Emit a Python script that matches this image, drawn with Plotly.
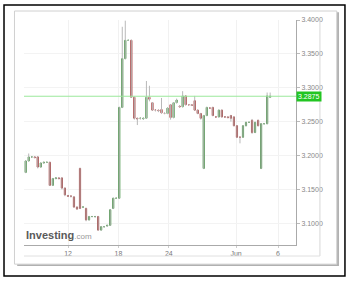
import plotly.graph_objects as go

# OHLC values (82 candles)
opens = [3.175,3.192,3.198,3.198,3.198,3.183,3.189,3.190,3.190,3.156,3.166,3.167,3.167,3.152,3.141,3.140,
         3.139,3.124,3.181,3.124,3.122,3.105,3.110,3.110,3.110,3.090,3.095,3.096,3.097,3.122,3.137,3.137,
         3.271,3.343,3.370,3.370,3.286,3.255,3.255,3.254,3.255,3.286,3.278,3.267,3.267,3.268,3.262,3.262,
         3.275,3.256,3.278,3.273,3.272,3.288,3.275,3.275,3.281,3.267,3.262,3.181,3.259,3.270,3.271,3.257,
         3.257,3.267,3.257,3.257,3.259,3.257,3.244,3.227,3.227,3.244,3.249,3.252,3.234,3.252,3.181,3.247,
         3.247,3.286]
closes = [3.192,3.198,3.198,3.197,3.183,3.189,3.190,3.190,3.156,3.166,3.167,3.166,3.152,3.142,3.140,3.140,
          3.124,3.121,3.122,3.124,3.105,3.110,3.110,3.110,3.090,3.095,3.095,3.097,3.120,3.137,3.137,3.271,
          3.343,3.370,3.370,3.286,3.255,3.254,3.255,3.255,3.286,3.283,3.267,3.267,3.266,3.263,3.262,3.270,
          3.256,3.278,3.282,3.272,3.288,3.275,3.275,3.274,3.267,3.262,3.255,3.259,3.271,3.270,3.259,3.257,
          3.267,3.257,3.257,3.256,3.255,3.244,3.227,3.227,3.244,3.249,3.249,3.234,3.249,3.244,3.247,3.247,
          3.288,3.2875]
highs = [3.193,3.203,3.199,3.199,3.199,3.190,3.191,3.191,3.191,3.167,3.168,3.168,3.168,3.153,3.142,3.141,
         3.140,3.125,3.182,3.125,3.123,3.111,3.111,3.111,3.111,3.096,3.096,3.098,3.121,3.138,3.138,3.272,
         3.390,3.399,3.371,3.371,3.287,3.256,3.256,3.256,3.310,3.303,3.279,3.268,3.268,3.285,3.264,3.271,
         3.276,3.279,3.284,3.274,3.295,3.289,3.276,3.276,3.288,3.268,3.263,3.260,3.272,3.271,3.272,3.258,
         3.268,3.268,3.258,3.258,3.260,3.258,3.245,3.228,3.245,3.250,3.250,3.254,3.250,3.253,3.248,3.248,
         3.293,3.293]
lows = [3.174,3.191,3.197,3.196,3.181,3.182,3.188,3.189,3.155,3.155,3.165,3.165,3.150,3.140,3.139,3.138,
        3.123,3.120,3.121,3.123,3.103,3.104,3.109,3.108,3.089,3.089,3.094,3.095,3.096,3.121,3.136,3.136,
        3.270,3.342,3.369,3.285,3.253,3.245,3.253,3.253,3.254,3.280,3.266,3.265,3.264,3.262,3.261,3.261,
        3.253,3.255,3.277,3.271,3.271,3.274,3.274,3.273,3.266,3.261,3.253,3.180,3.258,3.269,3.258,3.256,
        3.256,3.256,3.256,3.255,3.250,3.243,3.226,3.218,3.226,3.243,3.248,3.232,3.233,3.243,3.180,3.246,
        3.246,3.285]
last_price = 3.2875
tick_days = [12, 18, 24, 32, 37]
tick_labels = ["12", "18", "24", "Jun", "6"]
y_ticks = [3.10, 3.15, 3.20, 3.25, 3.30, 3.35, 3.40]

n = len(opens)
xs = [6.96 + 0.3593 * i for i in range(n)]
body_hi = [max(o, c) for o, c in zip(opens, closes)]
body_lo = [min(o, c) for o, c in zip(opens, closes)]

wx, wy = [], []
for x, h, l in zip(xs, highs, lows):
    wx += [x, x, None]
    wy += [l, h, None]

fig = go.Figure()
fig.add_trace(go.Scatter(x=wx, y=wy, mode="lines", line=dict(color="#b8b8b8", width=1),
                         hoverinfo="skip", showlegend=False))
fig.add_trace(go.Candlestick(
    x=xs, open=opens, high=body_hi, low=body_lo, close=closes,
    increasing=dict(line=dict(color="#4a974a", width=1), fillcolor="#4a974a"),
    decreasing=dict(line=dict(color="#a83a3a", width=1), fillcolor="#a83a3a"),
    whiskerwidth=0, showlegend=False))

fig.add_hline(y=last_price, line=dict(color="#9be89b", width=1))

shapes = [
    # outer black frame
    dict(type="rect", xref="paper", yref="paper", x0=-0.0735, x1=1.180, y0=-0.1378, y1=1.0667,
         line=dict(color="#000", width=1.5), layer="below"),
    # card shadow
    dict(type="rect", xref="paper", yref="paper", x0=-0.025, x1=1.158, y0=-0.093, y1=1.035,
         line=dict(width=0), fillcolor="#b0b0b0", layer="below"),
    dict(type="rect", xref="paper", yref="paper", x0=-0.035, x1=1.150, y0=-0.085, y1=1.040,
         line=dict(color="#d0d0d0", width=1), fillcolor="#ffffff", layer="below"),
    # extra panel lines
    dict(type="line", xref="paper", yref="paper", x0=1.088, x1=1.088, y0=-0.049, y1=1.0,
         line=dict(color="#d8d8d8", width=1)),
    dict(type="line", xref="paper", yref="paper", x0=0.0, x1=1.088, y0=-0.049, y1=-0.049,
         line=dict(color="#e0e0e0", width=1)),
]
fig.update_layout(
    width=350, height=281,
    margin=dict(l=24, r=54, t=20, b=36),
    paper_bgcolor="white", plot_bgcolor="white",
    boxgap=0.45,
    shapes=list(fig.layout.shapes) + shapes,
    xaxis=dict(range=[6.76, 39.14], rangeslider=dict(visible=False),
               tickvals=tick_days, ticktext=tick_labels, showgrid=True, gridcolor="#f1f1f1",
               showline=True, linecolor="#aaaaaa", ticks="outside", ticklen=2, tickcolor="#ccc",
               tickfont=dict(family="Arial", size=7, color="#777")),
    yaxis=dict(range=[3.068, 3.40], side="right", tickvals=y_ticks, tickformat=".4f",
               showgrid=True, gridcolor="#f3f3f3", showline=True, linecolor="#aaaaaa",
               ticks="outside", ticklen=3, tickcolor="#bbb", zeroline=False,
               tickfont=dict(family="Arial", size=7, color="#888")),
    annotations=[
        dict(xref="paper", yref="y", x=1.0, y=last_price, xanchor="left", yanchor="middle",
             text="3.2875", showarrow=False, bgcolor="#22c522",
             font=dict(family="Arial", size=7, color="white"), borderpad=1),
        dict(xref="paper", yref="paper", x=0.0, y=0.01, xanchor="left", yanchor="bottom",
             text="<b>Investing</b><span style='font-size:8px;color:#999'>.com</span>",
             showarrow=False, font=dict(family="Arial", size=11, color="#5a5a5a")),
    ],
)
fig.write_html("out.html")
